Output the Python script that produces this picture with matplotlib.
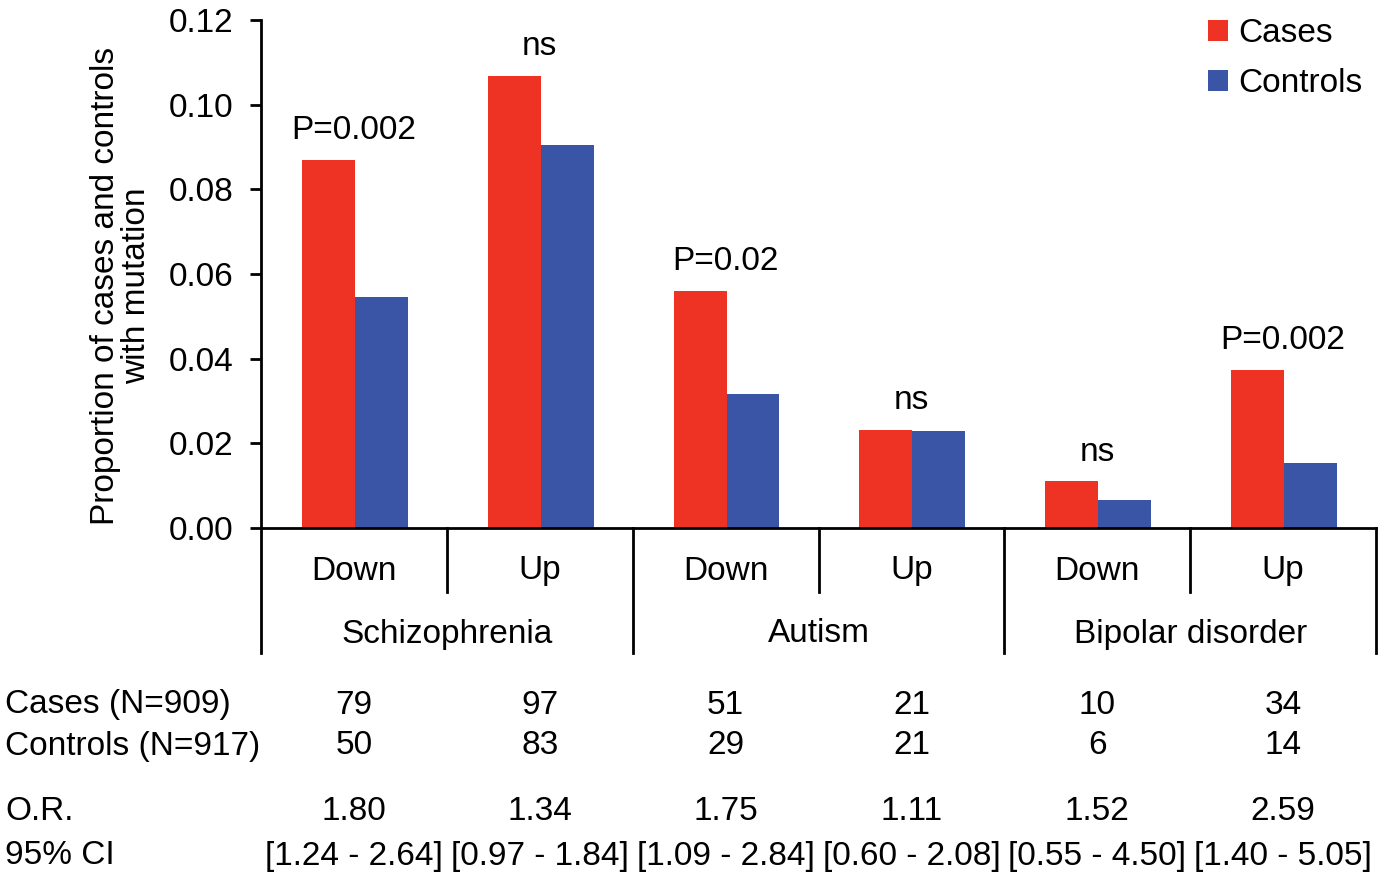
import matplotlib
matplotlib.use("Agg")
import matplotlib.pyplot as plt
from matplotlib.lines import Line2D
import matplotlib.transforms as mtransforms

plt.rcParams['font.family'] = ['Liberation Sans', 'DejaVu Sans']

# values
directions = ['Down', 'Up', 'Down', 'Up', 'Down', 'Up']
disorders = ['Schizophrenia', 'Autism', 'Bipolar disorder']
cases_prop = [0.0869, 0.1067, 0.0561, 0.0231, 0.0110, 0.0374]
controls_prop = [0.0545, 0.0905, 0.0316, 0.0229, 0.0065, 0.0153]
pvals = ['P=0.002', 'ns', 'P=0.02', 'ns', 'ns', 'P=0.002']
cases_n = ['79', '97', '51', '21', '10', '34']
controls_n = ['50', '83', '29', '21', '6', '14']
odds = ['1.80', '1.34', '1.75', '1.11', '1.52', '2.59']
ci = ['[1.24 - 2.64]', '[0.97 - 1.84]', '[1.09 - 2.84]',
      '[0.60 - 2.08]', '[0.55 - 4.50]', '[1.40 - 5.05]']
row_names = ['Cases (N=909)', 'Controls (N=917)', 'O.R.', '95% CI']

red = '#EE3224'
blue = '#3A55A6'
fs = 24

W, H = 1382, 883
fig = plt.figure(figsize=(W / 100, H / 100), dpi=100)
ax = fig.add_axes([261 / W, (H - 528) / H, (1376 - 261) / W, (528 - 20) / H])

bw = 0.285
x = list(range(len(directions)))
ax.bar([i + 0.22 for i in x], cases_prop, width=bw, align='edge', color=red, label='Cases')
ax.bar([i + 0.505 for i in x], controls_prop, width=bw, align='edge', color=blue, label='Controls')

for i, p in enumerate(pvals):
    top = max(cases_prop[i], controls_prop[i])
    ax.annotate(p, (i + 0.5, top), xytext=(0, 10), textcoords='offset points',
                ha='center', va='bottom', fontsize=fs)

ax.set_xlim(0, 6)
ax.set_ylim(0, 0.12)
ax.set_yticks([0, 0.02, 0.04, 0.06, 0.08, 0.10, 0.12])
ax.set_yticklabels(['0.00', '0.02', '0.04', '0.06', '0.08', '0.10', '0.12'])
ax.tick_params(axis='y', labelsize=fs, length=8, width=2, direction='out', pad=12)
ax.set_xticks([])
for s in ['top', 'right']:
    ax.spines[s].set_visible(False)
for s in ['left', 'bottom']:
    ax.spines[s].set_linewidth(2)

ax.set_ylabel('Proportion of cases and controls\nwith mutation', fontsize=fs,
              linespacing=1.0)
ax.yaxis.set_label_coords(-0.098, 0.476)

# category lines and labels below the axis (y in figure pixels)
trans = mtransforms.blended_transform_factory(ax.transData, fig.transFigure)
def fy(py):
    return 1 - py / H

for i in range(7):
    bottom = 653 if i % 2 == 0 else 592
    fig.add_artist(Line2D([i, i], [fy(528), fy(bottom)], transform=trans,
                          color='black', lw=2))

for i, d in enumerate(directions):
    fig.text(i + 0.5, fy(571), d, transform=trans, ha='center', va='center', fontsize=fs)
for j, g in enumerate(disorders):
    fig.text(2 * j + 1, fy(634), g, transform=trans, ha='center', va='center', fontsize=fs)

rows = [cases_n, controls_n, odds, ci]
row_y = [705, 746, 812, 856]
for name, vals, py in zip(row_names, rows, row_y):
    fig.text(5 / W, fy(py), name, ha='left', va='center', fontsize=fs)
    for i, v in enumerate(vals):
        fig.text(i + 0.5, fy(py), v, transform=trans, ha='center', va='center', fontsize=fs)

leg = ax.legend(loc='upper right', bbox_to_anchor=(1.0, 1.03), frameon=False, fontsize=fs,
                handlelength=0.6, handleheight=0.6, handletextpad=0.3,
                labelspacing=0.58, borderaxespad=0)

fig.savefig('out.png', dpi=100)
